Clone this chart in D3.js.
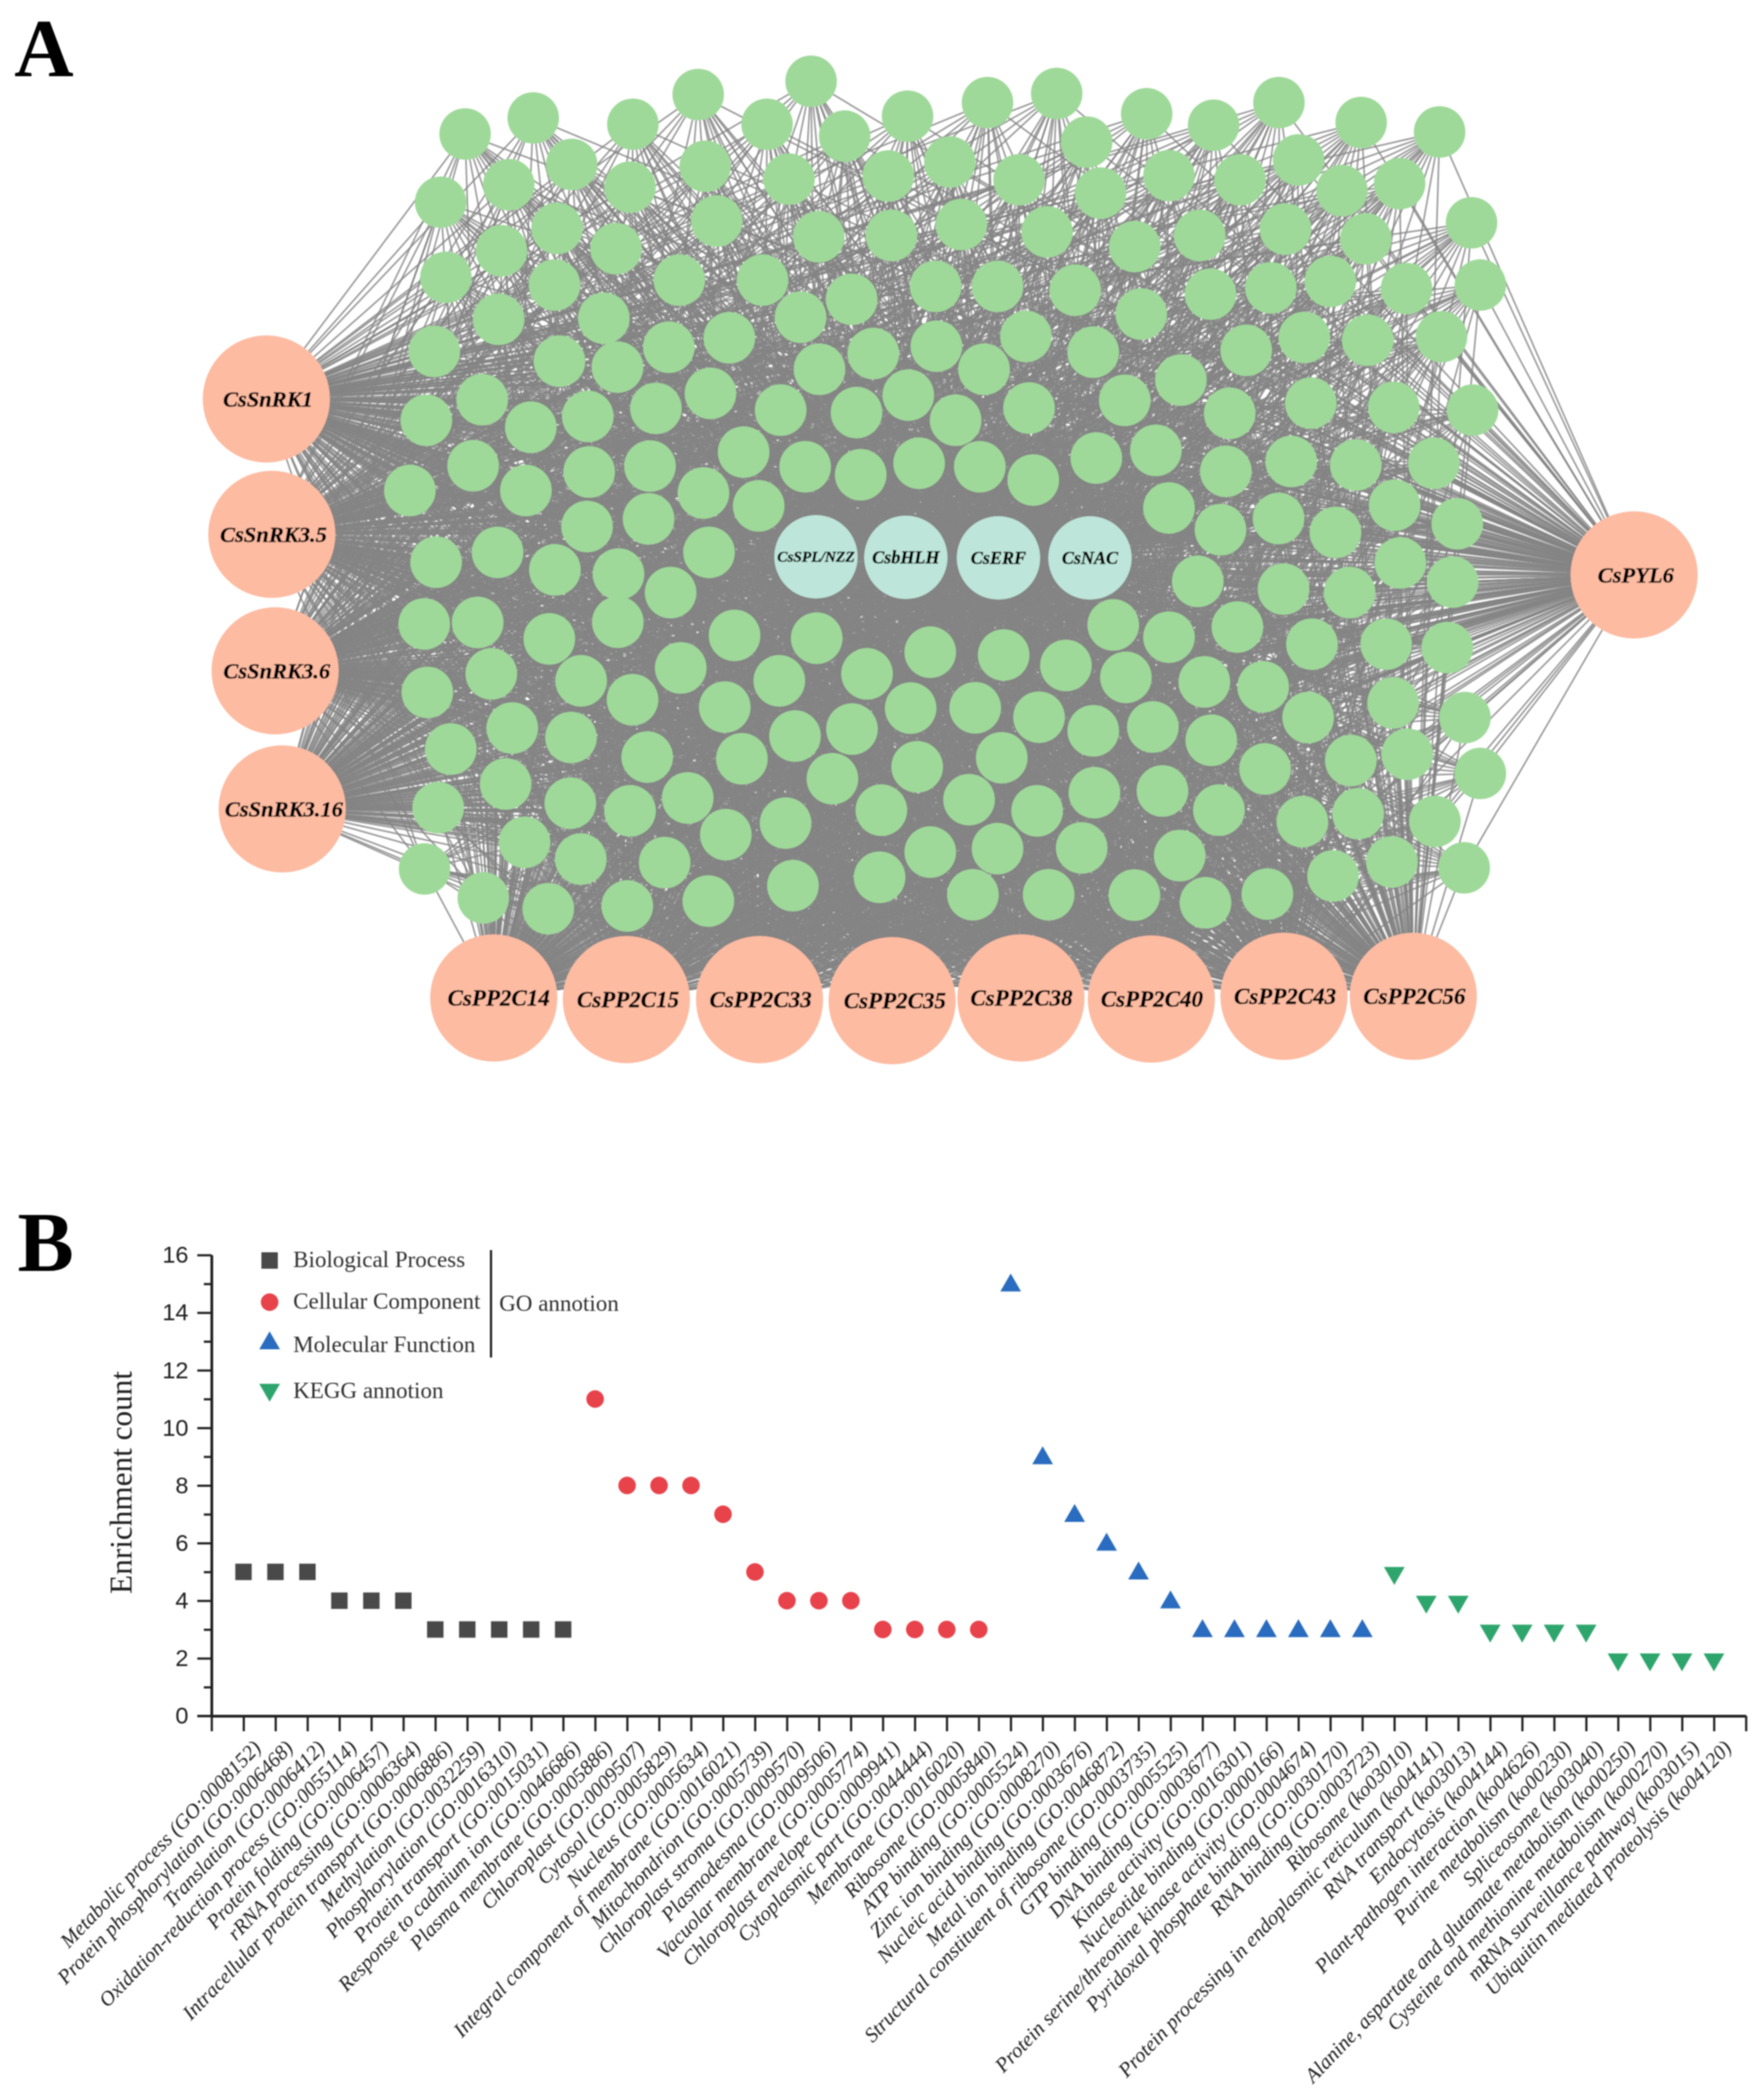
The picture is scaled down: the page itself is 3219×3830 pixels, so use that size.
<!DOCTYPE html>
<html><head><meta charset="utf-8">
<script src="https://cdn.jsdelivr.net/npm/d3@7/dist/d3.min.js"></script>
<style>html,body{margin:0;padding:0;background:#fff}svg{display:block}text{font-family:"Liberation Serif",serif}</style>
</head><body><div id="chart"></div>
<script>
// ---------- Panel A: network ----------
const outerHubNames = ["CsSnRK1","CsSnRK3.5","CsSnRK3.6","CsSnRK3.16","CsPYL6","CsPP2C14","CsPP2C15","CsPP2C33","CsPP2C35","CsPP2C38","CsPP2C40","CsPP2C43","CsPP2C56"];
const outerHubX = [486,496,502,515,2982,901,1143,1386,1628,1863,2101,2343,2579];
const outerHubY = [728,975,1224,1476,1049,1821,1824,1824,1826,1821,1823,1818,1818];
const outerHubFont = [41,41,41,41,41,42,42,42,42,42,42,42,42];
const outerHubLabelShift = [3,3,3,3,3,9,3,2,5,1,1,2,2];
const tfNames = ["CsSPL/NZZ","CsbHLH","CsERF","CsNAC"];
const tfX = [1489,1653,1822,1989];
const tfY = [1016,1017,1018,1018];
const tfFont = [28,33,33,33];

// green nodes as read in four windows of the picture: [x, y] in window units (0-1568)
const nodesNW = [[390,258],[585,212],[870,230],[1057,145],[1380,107],[1254,230],[1476,264],[320,453],[515,403],[695,345],[862,410],[1077,350],[1317,387],[653,528],[494,592],[822,586],[1110,507],[1402,552],[335,668],[646,690],[1003,676],[1241,676],[1496,731],[1350,782],[486,788],[787,785],[302,880],[660,908],[826,925],[973,868],[1146,841],[1404,931],[1558,886],[1092,1000],[936,1043],[741,1066],[578,1097],[439,1018],[279,1077],[1293,1048],[1510,1055],[413,1207],[232,1278],[564,1278],[745,1225],[919,1208],[1187,1168],[1363,1210],[1522,1233],[1072,1285],[1230,1322],[739,1381],[915,1359],[1088,1455],[483,1455],[307,1483],[647,1505],[829,1517],[978,1570]];
const nodesNE = [[80,207],[288,168],[468,142],[702,200],[876,233],[1046,168],[1260,225],[1464,252],[546,281],[30,378],[190,338],[370,389],[582,427],[760,377],[945,389],[1097,332],[1210,420],[1360,400],[1547,512],[38,548],[220,517],[443,538],[671,580],[840,548],[1063,530],[1272,558],[1378,700],[1570,690],[153,694],[314,694],[516,705],[688,773],[868,716],[1025,698],[1180,680],[155,865],[388,837],[279,931],[563,882],[1469,838],[1277,848],[1112,840],[961,877],[82,1005],[205,1077],[396,1042],[645,1020],[791,962],[918,1057],[1129,1028],[1345,1040],[1550,1048],[110,1200],[268,1210],[407,1248],[571,1185],[726,1163],[908,1223],[1078,1195],[1246,1205],[1449,1200],[760,1328],[894,1390],[1045,1358],[1193,1398],[1347,1320],[1510,1373],[1362,1485],[1498,1540],[835,1538],[1058,1560],[1230,1570]];
const nodesSW = [[273,217],[426,213],[631,260],[827,212],[1161,250],[1396,258],[465,360],[722,380],[1007,343],[1289,380],[1540,360],[282,413],[869,434],[1133,455],[525,515],[693,542],[349,575],[911,598],[1182,603],[1334,538],[1497,518],[506,675],[1441,660],[313,743],[691,730],[862,752],[1027,715],[1581,750],[560,842],[721,890],[961,900],[1136,820],[1307,787],[274,918],[442,1001],[628,1032],[854,1024],[1086,1010],[1328,966],[1576,942]];
const nodesSE = [[615,220],[760,255],[938,226],[1132,275],[1325,275],[1484,285],[139,298],[330,306],[492,336],[648,370],[852,383],[1005,397],[1122,485],[1343,443],[1530,485],[88,458],[256,457],[422,484],[563,523],[718,512],[870,550],[1233,608],[1380,590],[1570,645],[105,626],[325,600],[1010,632],[240,720],[417,752],[566,700],[743,695],[890,750],[1107,783],[1252,760],[1452,782],[139,870],[314,860],[533,858],[788,880],[1187,938],[1340,898],[1528,915],[250,992],[447,992],[670,993],[855,1015],[1016,990]];

// ---------- Panel B: enrichment ----------
const bpLabels = ["Metabolic process (GO:0008152)","Protein phosphorylation (GO:0006468)","Translation (GO:0006412)","Oxidation-reduction process (GO:0055114)","Protein folding (GO:0006457)","rRNA processing (GO:0006364)","Intracellular protein transport (GO:0006886)","Methylation (GO:0032259)","Phosphorylation (GO:0016310)","Protein transport (GO:0015031)","Response to cadmium ion (GO:0046686)"];
const bpValues = [5,5,5,4,4,4,3,3,3,3,3];
const ccLabels = ["Plasma membrane (GO:0005886)","Chloroplast (GO:0009507)","Cytosol (GO:0005829)","Nucleus (GO:0005634)","Integral component of membrane (GO:0016021)","Mitochondrion (GO:0005739)","Chloroplast stroma (GO:0009570)","Plasmodesma (GO:0009506)","Vacuolar membrane (GO:0005774)","Chloroplast envelope (GO:0009941)","Cytoplasmic part (GO:0044444)","Membrane (GO:0016020)","Ribosome (GO:0005840)"];
const ccValues = [11,8,8,8,7,5,4,4,4,3,3,3,3];
const mfLabels = ["ATP binding (GO:0005524)","Zinc ion binding (GO:0008270)","Nucleic acid binding (GO:0003676)","Metal ion binding (GO:0046872)","Structural constituent of ribosome (GO:0003735)","GTP binding (GO:0005525)","DNA binding (GO:0003677)","Kinase activity (GO:0016301)","Nucleotide binding (GO:0000166)","Protein serine/threonine kinase activity (GO:0004674)","Pyridoxal phosphate binding (GO:0030170)","RNA binding (GO:0003723)"];
const mfValues = [15,9,7,6,5,4,3,3,3,3,3,3];
const keggLabels = ["Ribosome (ko03010)","Protein processing in endoplasmic reticulum (ko04141)","RNA transport (ko03013)","Endocytosis (ko04144)","Plant-pathogen interaction (ko04626)","Purine metabolism (ko00230)","Spliceosome (ko03040)","Alanine, aspartate and glutamate metabolism (ko00250)","Cysteine and methionine metabolism (ko00270)","mRNA surveillance pathway (ko03015)","Ubiquitin mediated proteolysis (ko04120)"];
const keggValues = [5,4,4,3,3,3,3,2,2,2,2];
const legendLabels = ["Biological Process","Cellular Component","Molecular Function","KEGG annotion"];
const yTicks = [0,2,4,6,8,10,12,14,16];

const svg = d3.select("#chart").append("svg").attr("width",3219).attr("height",3830).attr("viewBox","0 0 3219 3830");
svg.append("rect").attr("width",3219).attr("height",3830).attr("fill","#fff");
svg.append("defs").append("filter").attr("id","soft")
  .attr("filterUnits","userSpaceOnUse").attr("x",0).attr("y",0).attr("width",3219).attr("height",3830)
  .append("feGaussianBlur").attr("stdDeviation",1.2);
const root = svg.append("g").attr("filter","url(#soft)");

// windows -> picture
const win = (x0,x1,y0,y1,pts)=>{
  const sx=d3.scaleLinear([0,1568],[x0,x1]), sy=d3.scaleLinear([0,1568],[y0,y1]);
  return pts.map(p=>({x:sx(p[0]),y:sy(p[1])}));
};
const greens = [].concat(win(600,1600,80,1080,nodesNW),win(1600,2700,80,1080,nodesNE),win(600,1600,1000,2000,nodesSW),win(1600,2700,1000,2000,nodesSE));
const outerHubs = outerHubNames.map((n,i)=>({name:n,x:outerHubX[i],y:outerHubY[i],fs:outerHubFont[i],dx:outerHubLabelShift[i]}));
const tfs = tfNames.map((n,i)=>({name:n,x:tfX[i],y:tfY[i],fs:tfFont[i],dx:0}));
const allHubs = outerHubs.concat(tfs);
const edges = d3.cross(allHubs,greens);

const net = root.append("g");
net.append("g").selectAll("line").data(edges).join("line")
  .attr("x1",d=>d[0].x).attr("y1",d=>d[0].y).attr("x2",d=>d[1].x).attr("y2",d=>d[1].y)
  .attr("stroke","#858585").attr("stroke-width",3).attr("stroke-opacity",0.8);
net.append("g").selectAll("circle").data(greens).join("circle")
  .attr("cx",d=>d.x).attr("cy",d=>d.y).attr("r",47).attr("fill","#9fd99a");
net.append("g").selectAll("circle").data(tfs).join("circle")
  .attr("cx",d=>d.x).attr("cy",d=>d.y).attr("r",76).attr("fill","#bde5d9");
net.append("g").selectAll("circle").data(outerHubs).join("circle")
  .attr("cx",d=>d.x).attr("cy",d=>d.y).attr("r",116).attr("fill","#fdbba1");
net.append("g").selectAll("text").data(allHubs).join("text")
  .attr("x",d=>d.x+d.dx).attr("y",d=>d.y).attr("dy","0.33em").attr("text-anchor","middle")
  .attr("font-size",d=>d.fs).attr("font-weight","bold").attr("font-style","italic")
  .attr("fill","#000").attr("stroke","#000").attr("stroke-width",0.7).text(d=>d.name);

// panel letters
root.append("text").attr("x",26).attr("y",139).attr("font-size",150).attr("font-weight","bold").text("A");
root.append("text").attr("x",32).attr("y",2319).attr("font-size",154).attr("font-weight","bold").text("B");

// chart B
const groups = [
  {labels:bpLabels,values:bpValues,color:"#4a4a4a",sym:d3.symbolSquare,size:900,rot:0},
  {labels:ccLabels,values:ccValues,color:"#e8424c",sym:d3.symbolCircle,size:804,rot:0},
  {labels:mfLabels,values:mfValues,color:"#2a6cbf",sym:d3.symbolTriangle,size:620,rot:0},
  {labels:keggLabels,values:keggValues,color:"#2fa56c",sym:d3.symbolTriangle,size:620,rot:180}
];
const x = d3.scaleLinear([0,48],[386,3186]);
const y = d3.scaleLinear([0,16],[3131,2290]);
const chart = root.append("g");
const styleAxis = g=>{g.selectAll("path,line").attr("stroke","#222").attr("stroke-width",4);g.select(".domain").attr("stroke-width",5);};
chart.append("g").attr("transform",`translate(${x(0)},0)`)
  .call(d3.axisLeft(y).tickValues(d3.range(1,16,2)).tickSize(14).tickSizeOuter(0).tickFormat("")).call(styleAxis);
chart.append("g").attr("transform",`translate(${x(0)},0)`)
  .call(d3.axisLeft(y).tickValues(yTicks).tickSize(26).tickSizeOuter(0).tickPadding(16)).call(styleAxis)
  .call(g=>g.selectAll("text").attr("font-size",43).attr("fill","#222").style("font-family","'Liberation Sans',sans-serif"));
chart.append("g").attr("transform",`translate(0,${y(0)})`)
  .call(d3.axisBottom(x).tickValues(d3.range(0,49)).tickSize(28).tickSizeOuter(0).tickFormat("")).call(styleAxis);
chart.append("line").attr("x1",x(0)-26).attr("x2",x(0)).attr("y1",y(0)).attr("y2",y(0)).attr("stroke","#222").attr("stroke-width",4);

chart.append("text").attr("transform","translate(240,2705) rotate(-90)").attr("text-anchor","middle")
  .attr("font-size",57).attr("fill","#222").text("Enrichment count");

let idx = 1;
groups.forEach(g=>{
  const start = idx;
  const pts = g.values.map((v,i)=>({i:start+i,v,label:g.labels[i]}));
  idx += g.values.length;
  const cy = g.sym===d3.symbolTriangle ? (g.rot?2:3) : 0;
  chart.append("g").selectAll("path").data(pts).join("path")
    .attr("d",d3.symbol(g.sym,g.size)).attr("fill",g.color)
    .attr("transform",d=>`translate(${x(d.i)},${y(d.v)+cy}) rotate(${g.rot})`);
  chart.append("g").selectAll("text").data(pts).join("text")
    .attr("transform",d=>`translate(${x(d.i)+34},${y(0)+60}) rotate(-46)`)
    .attr("text-anchor","end").attr("font-size",37.6).attr("font-style","italic").attr("fill","#222")
    .text(d=>d.label);
});

// legend
const legendY = [2300,2376,2451,2536];
const legendTextY = [2312,2388,2467,2551];
groups.forEach((g,i)=>{
  chart.append("path").attr("d",d3.symbol(g.sym,g.size)).attr("fill",g.color)
    .attr("transform",`translate(492,${legendY[i]}) rotate(${g.rot})`);
  chart.append("text").attr("x",535).attr("y",legendTextY[i]).attr("font-size",42).attr("fill","#333").text(legendLabels[i]);
});
chart.append("line").attr("x1",896).attr("x2",896).attr("y1",2281).attr("y2",2477).attr("stroke","#222").attr("stroke-width",4);
chart.append("text").attr("x",911).attr("y",2392).attr("font-size",42).attr("fill","#333").text("GO annotion");
</script></body></html>
